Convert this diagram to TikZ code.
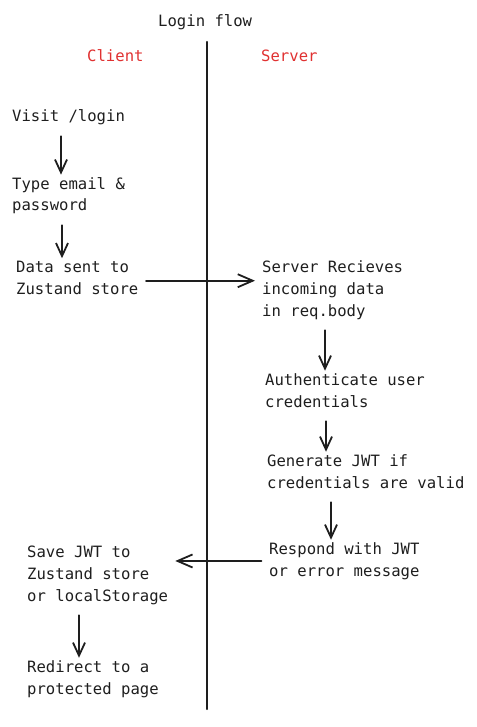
\documentclass[tikz,border=0pt]{standalone}
\usepackage{fontspec}
\setmonofont{DejaVu Sans Mono}
\usetikzlibrary{arrows.meta}
\definecolor{inkcolor}{HTML}{1E1E1E}
\definecolor{sidecolor}{HTML}{E03131}

\begin{document}
\begin{tikzpicture}
  [x=1pt,y=-1pt,line cap=round,
   % Styles (nodes sit on the baseline of their last line)
   step text/.style={anchor=base west,inner sep=0pt,align=left,text=inkcolor,
     font=\ttfamily\fontsize{15.6}{21.7}\selectfont,
     execute at begin node=\strut,execute at end node=\strut},
   side title/.style={step text,text=sidecolor},
   flow/.style={draw=inkcolor,line width=1.8pt,shorten <=7.5pt,shorten >=2.5pt,
     -{Straight Barb[length=13pt,width=12pt]}},
   cross flow/.style={flow,shorten >=7pt,-{Straight Barb[length=15pt,width=13pt]}},
   divider/.style={draw=inkcolor,line width=2.3pt}]

  \useasboundingbox (0,0) rectangle (476,727);

  % Titles
  \node[step text] (title) at (158,27) {Login flow};
  \node[side title] (client) at (87,62) {Client};
  \node[side title] (server) at (261,62) {Server};

  % The divider
  \coordinate (top) at (207,42);
  \coordinate (bottom) at (207,709);
  \draw[divider] (top) -- (bottom);

  % Client side
  \node[step text] (visit) at (12,122) {Visit /login};
  \node[step text] (type) at (12,211) {Type email \&\\password};
  \node[step text] (data) at (16,294) {Data sent to\\Zustand store};
  \node[step text] (save) at (27,601) {Save JWT to\\Zustand store\\or localStorage};
  \node[step text] (redirect) at (27,694) {Redirect to a\\protected page};

  % Server side
  \node[step text] (recv) at (262,316) {Server Recieves\\incoming data\\in req.body};
  \node[step text] (auth) at (265,407) {Authenticate user\\credentials};
  \node[step text] (gen) at (267,488) {Generate JWT if\\credentials are valid};
  \node[step text] (respond) at (269,576) {Respond with JWT\\or error message};

  % Steps
  \draw[flow] ([xshift=49pt]visit.south west) coordinate (c1) -- (c1 |- type.north);
  \draw[flow] ([xshift=50pt]type.south west) coordinate (c2) -- (c2 |- data.north);
  \draw[flow] ([xshift=63pt]recv.south west) coordinate (s1) -- (s1 |- auth.north);
  \draw[flow] ([xshift=61pt]auth.south west) coordinate (s2) -- (s2 |- gen.north);
  \draw[flow] ([xshift=64pt]gen.south west) coordinate (s3) -- (s3 |- respond.north);
  \draw[flow] ([xshift=52pt]save.south west) coordinate (c3) -- (c3 |- redirect.north);

  % Across the divider
  \draw[cross flow] (data.east) -- (data.east -| recv.west);
  \draw[cross flow] ([yshift=1.5pt]respond.west) coordinate (r1) -- (r1 -| save.east);
\end{tikzpicture}
\end{document}
